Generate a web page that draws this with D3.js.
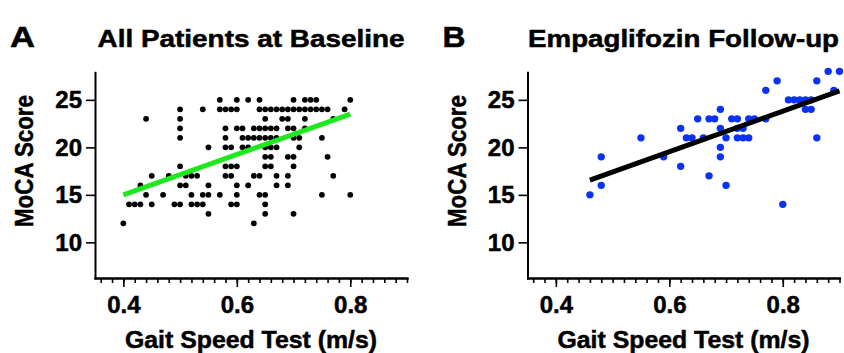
<!DOCTYPE html>
<html>
<head>
<meta charset="utf-8">
<script src="https://cdn.jsdelivr.net/npm/d3@7"></script>
<style>
  body { margin: 0; background: #fff; }
  text { font-family: "Liberation Sans", Arial, sans-serif; font-weight: bold; fill: #000; stroke: #000; stroke-width: 0.5px; }
</style>
</head>
<body>
<svg id="chart" width="844" height="353"></svg>
<script>
// Panel A: all patients at baseline, grouped by MoCA score
const baselineScores = [25, 24, 23, 22, 21, 20, 19, 18, 17, 16, 15, 14, 13, 12];
const baselineGait = [
  [0.57, 0.60, 0.62, 0.64, 0.70, 0.72, 0.73, 0.74, 0.80],
  [0.50, 0.54, 0.57, 0.58, 0.59, 0.60, 0.64, 0.65, 0.66, 0.67, 0.68, 0.69, 0.70, 0.71, 0.72, 0.73, 0.74, 0.75, 0.76, 0.79],
  [0.44, 0.50, 0.65, 0.68, 0.69, 0.72, 0.77],
  [0.50, 0.58, 0.60, 0.61, 0.63, 0.64, 0.65, 0.66, 0.67, 0.69, 0.70, 0.72],
  [0.50, 0.58, 0.61, 0.62, 0.63, 0.64, 0.65, 0.66, 0.67, 0.70, 0.71, 0.75],
  [0.55, 0.58, 0.59, 0.61, 0.62, 0.65, 0.66, 0.67, 0.71],
  [0.65, 0.66, 0.69, 0.70, 0.76],
  [0.50, 0.58, 0.59, 0.60, 0.65, 0.66, 0.70],
  [0.45, 0.48, 0.51, 0.52, 0.53, 0.58, 0.59, 0.63, 0.64, 0.67, 0.69, 0.77],
  [0.43, 0.50, 0.51, 0.55, 0.60, 0.62, 0.67, 0.69],
  [0.44, 0.47, 0.52, 0.54, 0.55, 0.57, 0.60, 0.64, 0.65, 0.75, 0.80],
  [0.41, 0.42, 0.43, 0.45, 0.49, 0.50, 0.52, 0.53, 0.54, 0.59, 0.60, 0.65],
  [0.55, 0.65, 0.70],
  [0.40, 0.63]
];
const baselineFitX = [0.40, 0.80];
const baselineFitY = [15.0, 23.5];

// Panel B: empagliflozin follow-up
const followGait = [0.46, 0.48, 0.48, 0.55, 0.59, 0.62, 0.62, 0.63, 0.64, 0.65, 0.66, 0.67, 0.68, 0.67, 0.69, 0.69, 0.69, 0.69, 0.70, 0.70, 0.71, 0.72, 0.72, 0.73, 0.72, 0.73, 0.74, 0.74, 0.75, 0.77, 0.77, 0.79, 0.80, 0.81, 0.82, 0.83, 0.84, 0.85, 0.84, 0.85, 0.86, 0.86, 0.88, 0.89, 0.90];
const followMoca = [15, 16, 19, 21, 19, 22, 18, 21, 21, 23, 21, 23, 23, 17, 24, 22, 20, 19, 21, 16, 23, 23, 22, 22, 21, 21, 21, 23, 23, 23, 26, 27, 14, 25, 25, 25, 25, 25, 24, 24, 21, 27, 28, 26, 28];
const followFitX = [0.46, 0.90];
const followFitY = [16.55, 25.95];

const xMinorTicks = d3.range(18, 46).map(i => +(i * 0.02).toFixed(2));
const xMajorTicks = [0.4, 0.6, 0.8];
const yTicks = [10, 15, 20, 25];

const svg = d3.select('#chart');

function drawPanel(opts) {
  const x = d3.scaleLinear().domain([0.35, 0.90]).range([opts.left, opts.left + 312]);
  const y = d3.scaleLinear().domain([6.25, 27.9]).range([278, 72.3]);
  const g = svg.append('g');

  // axes
  const xMinor = g.append('g').attr('transform', 'translate(0,278)')
    .call(d3.axisBottom(x).tickValues(xMinorTicks).tickSize(5).tickSizeOuter(0).tickFormat(''));
  const xMajor = g.append('g').attr('transform', 'translate(0,278)')
    .call(d3.axisBottom(x).tickValues(xMajorTicks).tickSize(9).tickSizeOuter(0).tickPadding(9).tickFormat(d3.format('.1f')));
  const yAxis = g.append('g').attr('transform', `translate(${opts.left},0)`)
    .call(d3.axisLeft(y).tickValues(yTicks).tickSize(9).tickSizeOuter(0).tickPadding(4));

  [xMinor, xMajor, yAxis].forEach(a => {
    a.select('.domain').attr('stroke', '#000').attr('stroke-width', 2).attr('stroke-linecap', 'square');
    a.selectAll('.tick line').attr('stroke', '#000').attr('stroke-width', 1.6);
    a.selectAll('text').style('font-size', '24px').attr('fill', '#000');
  });

  // points
  g.append('g').selectAll('circle')
    .data(opts.points)
    .join('circle')
    .attr('cx', d => x(d[0]))
    .attr('cy', d => y(d[1]))
    .attr('r', opts.r)
    .attr('fill', opts.dotColor);

  // regression line
  g.append('line')
    .attr('x1', x(opts.fitX[0])).attr('y1', y(opts.fitY[0]))
    .attr('x2', x(opts.fitX[1])).attr('y2', y(opts.fitY[1]))
    .attr('stroke', opts.lineColor)
    .attr('stroke-width', 5);

  const cx = opts.left + 156;

  // titles
  g.append('text')
    .attr('x', opts.left - 85).attr('y', 47)
    .attr('textLength', opts.letterWidth).attr('lengthAdjust', 'spacingAndGlyphs')
    .style('font-size', '30px')
    .text(opts.letter);

  g.append('text')
    .attr('x', cx).attr('y', 47)
    .attr('text-anchor', 'middle')
    .attr('textLength', opts.titleWidth).attr('lengthAdjust', 'spacingAndGlyphs')
    .style('font-size', '24px')
    .text(opts.title);

  // axis labels
  g.append('text')
    .attr('x', cx).attr('y', 348)
    .attr('text-anchor', 'middle')
    .attr('textLength', 252).attr('lengthAdjust', 'spacingAndGlyphs')
    .style('font-size', '24px')
    .text('Gait Speed Test (m/s)');

  g.append('text')
    .attr('transform', `translate(${opts.left - 62},161) rotate(-90)`)
    .attr('text-anchor', 'middle')
    .attr('textLength', 132).attr('lengthAdjust', 'spacingAndGlyphs')
    .style('font-size', '26px')
    .text('MoCA Score');
}

const baselinePoints = [];
baselineScores.forEach((s, i) => baselineGait[i].forEach(v => baselinePoints.push([v, s])));

drawPanel({
  left: 95,
  points: baselinePoints,
  r: 2.9,
  dotColor: '#000',
  fitX: baselineFitX,
  fitY: baselineFitY,
  lineColor: '#1ee81e',
  letter: 'A',
  letterWidth: 25,
  title: 'All Patients at Baseline',
  titleWidth: 307
});

drawPanel({
  left: 527.5,
  points: followGait.map((v, i) => [v, followMoca[i]]),
  r: 3.7,
  dotColor: '#0a32f5',
  fitX: followFitX,
  fitY: followFitY,
  lineColor: '#000',
  letter: 'B',
  letterWidth: 23,
  title: 'Empaglifozin Follow-up',
  titleWidth: 311
});
</script>
</body>
</html>
